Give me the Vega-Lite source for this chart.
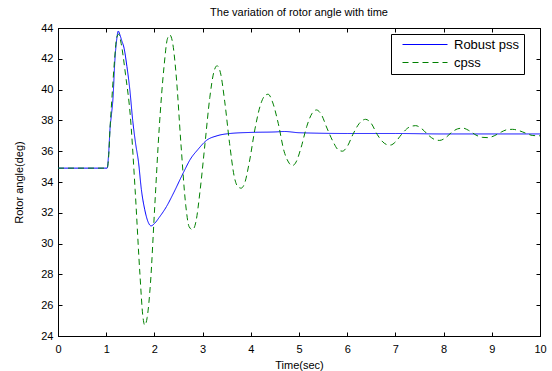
{
  "$schema": "https://vega.github.io/schema/vega-lite/v6.json",
  "width": 482,
  "height": 308,
  "autosize": "none",
  "padding": {"left": 58, "top": 28, "right": 12, "bottom": 35},
  "background": "white",
  "config": {
    "font": "Liberation Sans",
    "view": {"stroke": "black", "strokeWidth": 1},
    "axis": {
      "domainColor": "black", "tickColor": "black", "labelColor": "black", "titleColor": "black",
      "labelFont": "Liberation Sans", "titleFont": "Liberation Sans",
      "labelFontSize": 11, "titleFontSize": 11, "titleFontWeight": "normal",
      "grid": false, "tickSize": -4, "domainWidth": 1, "tickWidth": 1
    },
    "legend": {
      "labelFont": "Liberation Sans", "labelFontSize": 13, "labelColor": "black",
      "symbolType": "M0.2,0H9.2", "symbolSize": 100, "symbolStrokeWidth": 1.2,
      "strokeColor": "black", "fillColor": "white", "padding": 4, "rowPadding": 4,
      "labelOffset": 46, "labelLimit": 300
    }
  },
  "title": {"text": "The variation of rotor angle with time", "fontSize": 11, "fontWeight": "normal", "font": "Liberation Sans", "color": "black", "offset": 4, "anchor": "middle"},
  "datasets": {
    "robust": [
      {"t": 0, "v": 34.9, "series": "Robust pss"},
      {"t": 1.02, "v": 34.9, "series": "Robust pss"},
      {"t": 1.05, "v": 35.8, "series": "Robust pss"},
      {"t": 1.08, "v": 37.5, "series": "Robust pss"},
      {"t": 1.11, "v": 38.4, "series": "Robust pss"},
      {"t": 1.14, "v": 39.4, "series": "Robust pss"},
      {"t": 1.18, "v": 41.9, "series": "Robust pss"},
      {"t": 1.22, "v": 43.3, "series": "Robust pss"},
      {"t": 1.25, "v": 43.8, "series": "Robust pss"},
      {"t": 1.28, "v": 43.6, "series": "Robust pss"},
      {"t": 1.32, "v": 43.2, "series": "Robust pss"},
      {"t": 1.37, "v": 42.7, "series": "Robust pss"},
      {"t": 1.43, "v": 41.5, "series": "Robust pss"},
      {"t": 1.49, "v": 40.0, "series": "Robust pss"},
      {"t": 1.55, "v": 38.0, "series": "Robust pss"},
      {"t": 1.61, "v": 36.5, "series": "Robust pss"},
      {"t": 1.67, "v": 35.3, "series": "Robust pss"},
      {"t": 1.73, "v": 33.5, "series": "Robust pss"},
      {"t": 1.8, "v": 32.2, "series": "Robust pss"},
      {"t": 1.87, "v": 31.4, "series": "Robust pss"},
      {"t": 1.93, "v": 31.15, "series": "Robust pss"},
      {"t": 2.0, "v": 31.3, "series": "Robust pss"},
      {"t": 2.1, "v": 31.7, "series": "Robust pss"},
      {"t": 2.25, "v": 32.4, "series": "Robust pss"},
      {"t": 2.4, "v": 33.3, "series": "Robust pss"},
      {"t": 2.6, "v": 34.6, "series": "Robust pss"},
      {"t": 2.75, "v": 35.5, "series": "Robust pss"},
      {"t": 2.9, "v": 36.1, "series": "Robust pss"},
      {"t": 3.08, "v": 36.7, "series": "Robust pss"},
      {"t": 3.3, "v": 37.0, "series": "Robust pss"},
      {"t": 3.57, "v": 37.15, "series": "Robust pss"},
      {"t": 4.0, "v": 37.22, "series": "Robust pss"},
      {"t": 4.5, "v": 37.25, "series": "Robust pss"},
      {"t": 4.7, "v": 37.28, "series": "Robust pss"},
      {"t": 5.0, "v": 37.2, "series": "Robust pss"},
      {"t": 6.0, "v": 37.15, "series": "Robust pss"},
      {"t": 7.0, "v": 37.15, "series": "Robust pss"},
      {"t": 8.0, "v": 37.12, "series": "Robust pss"},
      {"t": 9.0, "v": 37.12, "series": "Robust pss"},
      {"t": 10.0, "v": 37.12, "series": "Robust pss"}
    ],
    "cpss": [
      {"t": 0, "v": 34.9, "series": "cpss"},
      {"t": 1.02, "v": 34.9, "series": "cpss"},
      {"t": 1.05, "v": 35.6, "series": "cpss"},
      {"t": 1.08, "v": 37.5, "series": "cpss"},
      {"t": 1.12, "v": 39.5, "series": "cpss"},
      {"t": 1.17, "v": 41.8, "series": "cpss"},
      {"t": 1.22, "v": 43.4, "series": "cpss"},
      {"t": 1.26, "v": 43.6, "series": "cpss"},
      {"t": 1.31, "v": 43.0, "series": "cpss"},
      {"t": 1.4, "v": 41.0, "series": "cpss"},
      {"t": 1.5, "v": 38.3, "series": "cpss"},
      {"t": 1.6, "v": 33.5, "series": "cpss"},
      {"t": 1.7, "v": 28.0, "series": "cpss"},
      {"t": 1.76, "v": 25.3, "series": "cpss"},
      {"t": 1.8, "v": 24.7, "series": "cpss"},
      {"t": 1.85, "v": 25.2, "series": "cpss"},
      {"t": 1.92, "v": 27.5, "series": "cpss"},
      {"t": 2.0, "v": 32.0, "series": "cpss"},
      {"t": 2.1, "v": 37.5, "series": "cpss"},
      {"t": 2.2, "v": 41.5, "series": "cpss"},
      {"t": 2.27, "v": 43.3, "series": "cpss"},
      {"t": 2.32, "v": 43.55, "series": "cpss"},
      {"t": 2.38, "v": 43.0, "series": "cpss"},
      {"t": 2.45, "v": 41.0, "series": "cpss"},
      {"t": 2.55, "v": 36.5, "series": "cpss"},
      {"t": 2.65, "v": 32.5, "series": "cpss"},
      {"t": 2.72, "v": 31.1, "series": "cpss"},
      {"t": 2.79, "v": 30.9, "series": "cpss"},
      {"t": 2.86, "v": 31.4, "series": "cpss"},
      {"t": 2.95, "v": 33.5, "series": "cpss"},
      {"t": 3.05, "v": 36.5, "series": "cpss"},
      {"t": 3.15, "v": 39.5, "series": "cpss"},
      {"t": 3.23, "v": 41.1, "series": "cpss"},
      {"t": 3.3, "v": 41.55, "series": "cpss"},
      {"t": 3.37, "v": 41.1, "series": "cpss"},
      {"t": 3.46, "v": 39.2, "series": "cpss"},
      {"t": 3.56, "v": 36.5, "series": "cpss"},
      {"t": 3.66, "v": 34.3, "series": "cpss"},
      {"t": 3.73, "v": 33.7, "series": "cpss"},
      {"t": 3.8, "v": 33.6, "series": "cpss"},
      {"t": 3.87, "v": 33.9, "series": "cpss"},
      {"t": 3.97, "v": 35.3, "series": "cpss"},
      {"t": 4.09, "v": 37.5, "series": "cpss"},
      {"t": 4.2, "v": 39.0, "series": "cpss"},
      {"t": 4.29, "v": 39.6, "series": "cpss"},
      {"t": 4.36, "v": 39.7, "series": "cpss"},
      {"t": 4.45, "v": 39.2, "series": "cpss"},
      {"t": 4.57, "v": 37.8, "series": "cpss"},
      {"t": 4.69, "v": 36.0, "series": "cpss"},
      {"t": 4.78, "v": 35.3, "series": "cpss"},
      {"t": 4.86, "v": 35.06, "series": "cpss"},
      {"t": 4.94, "v": 35.3, "series": "cpss"},
      {"t": 5.04, "v": 36.2, "series": "cpss"},
      {"t": 5.16, "v": 37.6, "series": "cpss"},
      {"t": 5.27, "v": 38.45, "series": "cpss"},
      {"t": 5.36, "v": 38.68, "series": "cpss"},
      {"t": 5.46, "v": 38.4, "series": "cpss"},
      {"t": 5.58, "v": 37.5, "series": "cpss"},
      {"t": 5.71, "v": 36.6, "series": "cpss"},
      {"t": 5.81, "v": 36.1, "series": "cpss"},
      {"t": 5.9, "v": 36.0, "series": "cpss"},
      {"t": 6.0, "v": 36.3, "series": "cpss"},
      {"t": 6.12, "v": 37.1, "series": "cpss"},
      {"t": 6.25, "v": 37.8, "series": "cpss"},
      {"t": 6.38, "v": 38.07, "series": "cpss"},
      {"t": 6.5, "v": 37.8, "series": "cpss"},
      {"t": 6.62, "v": 37.1, "series": "cpss"},
      {"t": 6.74, "v": 36.6, "series": "cpss"},
      {"t": 6.82, "v": 36.43, "series": "cpss"},
      {"t": 6.9, "v": 36.4, "series": "cpss"},
      {"t": 7.0, "v": 36.6, "series": "cpss"},
      {"t": 7.13, "v": 37.1, "series": "cpss"},
      {"t": 7.28, "v": 37.55, "series": "cpss"},
      {"t": 7.42, "v": 37.66, "series": "cpss"},
      {"t": 7.55, "v": 37.45, "series": "cpss"},
      {"t": 7.7, "v": 37.0, "series": "cpss"},
      {"t": 7.82, "v": 36.75, "series": "cpss"},
      {"t": 7.92, "v": 36.7, "series": "cpss"},
      {"t": 8.03, "v": 36.85, "series": "cpss"},
      {"t": 8.16, "v": 37.2, "series": "cpss"},
      {"t": 8.29, "v": 37.45, "series": "cpss"},
      {"t": 8.4, "v": 37.5, "series": "cpss"},
      {"t": 8.52, "v": 37.35, "series": "cpss"},
      {"t": 8.67, "v": 37.05, "series": "cpss"},
      {"t": 8.8, "v": 36.9, "series": "cpss"},
      {"t": 8.92, "v": 36.88, "series": "cpss"},
      {"t": 9.05, "v": 37.0, "series": "cpss"},
      {"t": 9.2, "v": 37.25, "series": "cpss"},
      {"t": 9.32, "v": 37.4, "series": "cpss"},
      {"t": 9.43, "v": 37.42, "series": "cpss"},
      {"t": 9.57, "v": 37.33, "series": "cpss"},
      {"t": 9.72, "v": 37.15, "series": "cpss"},
      {"t": 9.85, "v": 37.02, "series": "cpss"},
      {"t": 10.0, "v": 37.0, "series": "cpss"}
    ]
  },
  "layer": [
    {
      "data": {"name": "robust"},
      "mark": {"type": "line", "strokeWidth": 1, "interpolate": "monotone", "clip": true},
      "encoding": {
        "x": {"field": "t", "type": "quantitative", "scale": {"domain": [0, 10], "nice": false, "zero": false},
              "axis": {"orient": "bottom", "values": [0,1,2,3,4,5,6,7,8,9,10], "title": "Time(sec)", "labelPadding": 11, "titlePadding": 5, "labelFlush": false}},
        "y": {"field": "v", "type": "quantitative", "scale": {"domain": [24, 44], "nice": false, "zero": false},
              "axis": {"orient": "left", "values": [24,26,28,30,32,34,36,38,40,42,44], "title": "Rotor angle(deg)", "labelPadding": 9, "titlePadding": 16, "labelFlush": false}},
        "color": {"field": "series", "type": "nominal", "scale": {"domain": ["Robust pss", "cpss"], "range": ["#0000ff", "#008000"]},
                  "legend": {"title": null, "orient": "none", "legendX": 333, "legendY": 6, "labelExpr": "datum.label + '  '"}},
        "strokeDash": {"field": "series", "type": "nominal", "scale": {"domain": ["Robust pss", "cpss"], "range": [[1, 0], [6, 4]]},
                  "legend": {"title": null, "orient": "none", "legendX": 333, "legendY": 6, "labelExpr": "datum.label + '  '"}}
      }
    },
    {
      "data": {"name": "cpss"},
      "mark": {"type": "line", "strokeWidth": 1, "interpolate": "monotone", "clip": true},
      "encoding": {
        "x": {"field": "t", "type": "quantitative",
              "axis": {"orient": "top", "values": [0,1,2,3,4,5,6,7,8,9,10], "labels": false, "title": null}},
        "y": {"field": "v", "type": "quantitative",
              "axis": {"orient": "right", "values": [24,26,28,30,32,34,36,38,40,42,44], "labels": false, "title": null}},
        "color": {"field": "series", "type": "nominal"},
        "strokeDash": {"field": "series", "type": "nominal"}
      }
    }
  ],
  "resolve": {"axis": {"x": "independent", "y": "independent"}}
}
